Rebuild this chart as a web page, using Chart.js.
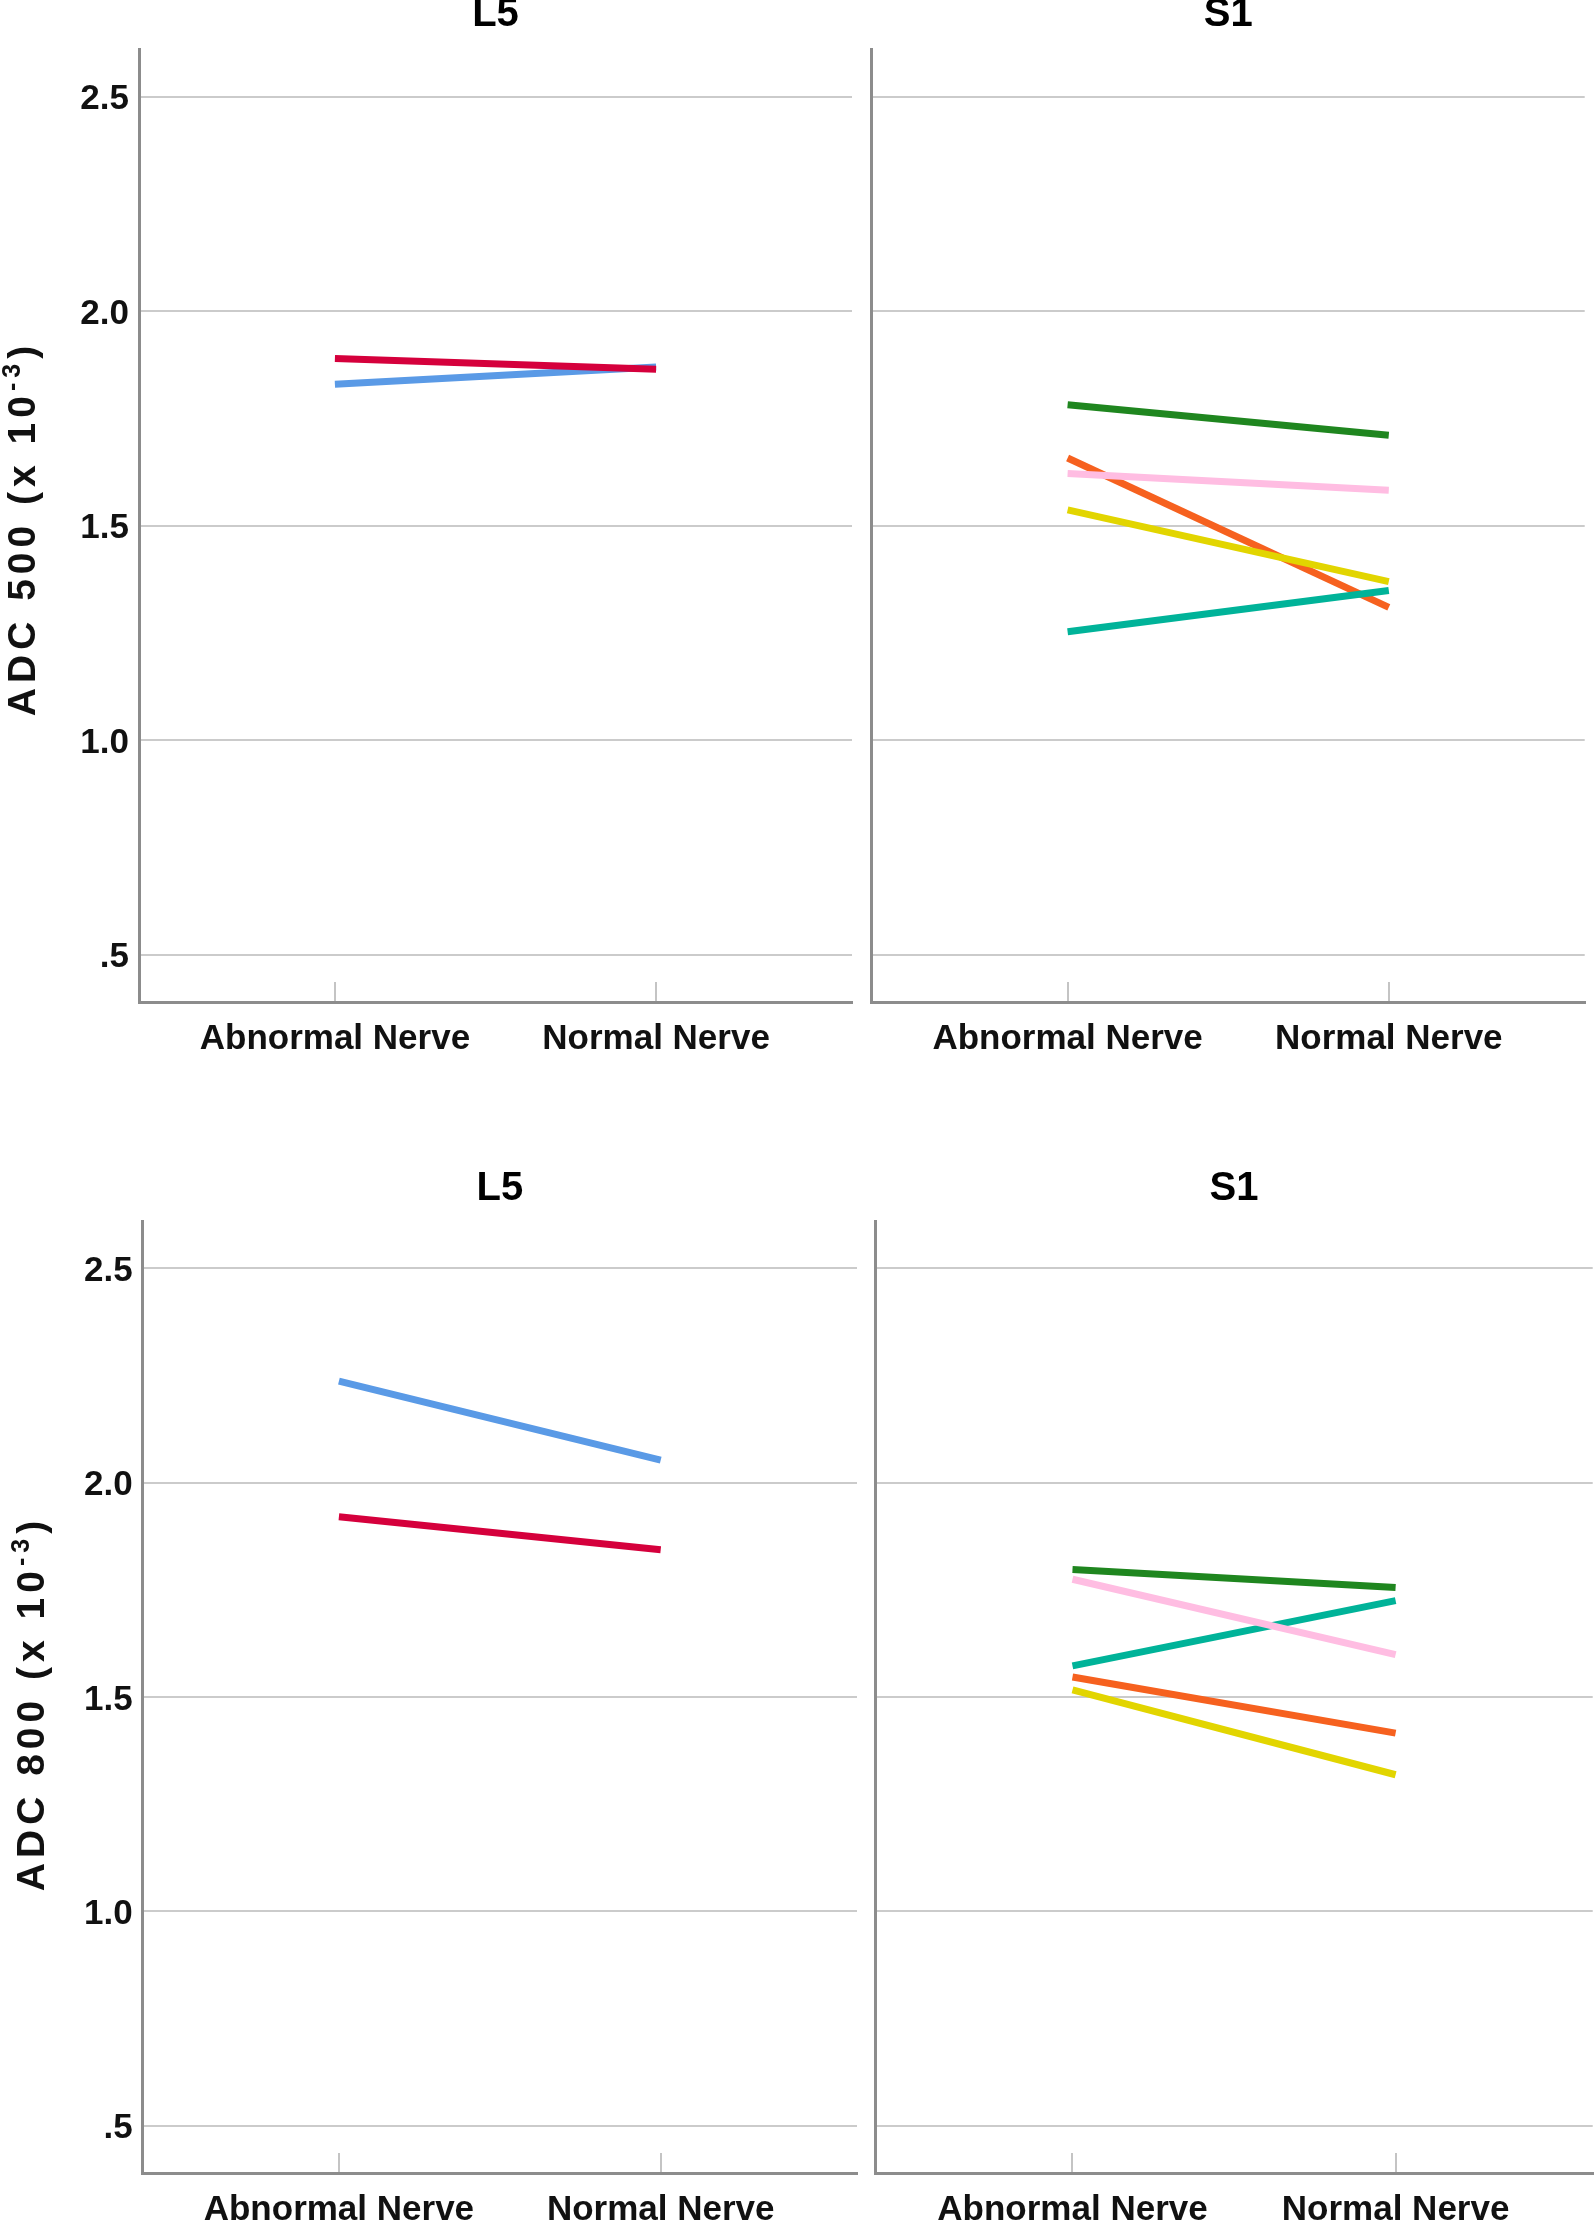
<!DOCTYPE html>
<html>
<head>
<meta charset="utf-8">
<script src="https://cdn.jsdelivr.net/npm/chart.js@4.4.0/dist/chart.umd.min.js"></script>
<style>
body { margin: 0; background: #fff; width: 1594px; height: 2220px; position: relative; overflow: hidden; }
canvas { position: absolute; }
</style>
</head>
<body>
<canvas id="c1" width="860" height="1110" style="left:0;top:-9px"></canvas>
<canvas id="c2" width="734" height="1110" style="left:860px;top:-9px"></canvas>
<canvas id="c3" width="865" height="1055" style="left:0;top:1165px"></canvas>
<canvas id="c4" width="729" height="1055" style="left:865px;top:1165px"></canvas>
<script>
// data
const categories = ['Abnormal Nerve', 'Normal Nerve'];
const yTickValues = [0.5, 1.0, 1.5, 2.0, 2.5];
const yTickLabels = ['.5', '1.0', '1.5', '2.0', '2.5'];

// ADC 500
const l5Adc500Red = [1.89, 1.865];
const l5Adc500Blue = [1.83, 1.87];
const s1Adc500Green = [1.782, 1.711];
const s1Adc500Pink = [1.622, 1.583];
const s1Adc500Orange = [1.658, 1.310];
const s1Adc500Yellow = [1.537, 1.370];
const s1Adc500Teal = [1.253, 1.349];

// ADC 800
const l5Adc800Blue = [2.237, 2.053];
const l5Adc800Red = [1.921, 1.844];
const s1Adc800Green = [1.798, 1.756];
const s1Adc800Pink = [1.775, 1.599];
const s1Adc800Teal = [1.573, 1.725];
const s1Adc800Orange = [1.547, 1.416];
const s1Adc800Yellow = [1.517, 1.319];

const col = {
  red: '#d5003c', blue: '#5a9ae6', green: '#1f861f', pink: '#ffbde2',
  orange: '#f6611f', yellow: '#e2d500', teal: '#00b399'
};
const FONT = '"Liberation Sans", Arial, sans-serif';

function drawSpaced(ctx, parts, spacing) {
  let total = -spacing;
  parts.forEach(p => {
    ctx.font = 'bold ' + p.size + 'px ' + FONT;
    for (const ch of p.t) total += ctx.measureText(ch).width + spacing;
  });
  let x = -total / 2;
  parts.forEach(p => {
    ctx.font = 'bold ' + p.size + 'px ' + FONT;
    for (const ch of p.t) {
      ctx.fillText(ch, x, 14 - p.rise);
      x += ctx.measureText(ch).width + spacing;
    }
  });
}

const yTitlePlugin = {
  id: 'ytitle',
  afterDraw(chart, args, opts) {
    if (!opts.text) return;
    const ctx = chart.ctx;
    ctx.save();
    ctx.fillStyle = '#111';
    ctx.textBaseline = 'alphabetic';
    ctx.translate(opts.x, opts.y);
    ctx.rotate(-Math.PI / 2);
    drawSpaced(ctx, [
      { t: opts.text, size: 39, rise: 0 },
      { t: '-3', size: 25, rise: 15 },
      { t: ')', size: 39, rise: 0 }
    ], 5);
    ctx.restore();
  }
};

function series(values, color) {
  return {
    data: values.map((v, i) => ({ x: i, y: v })),
    borderColor: color,
    borderWidth: 7,
    pointRadius: 0,
    fill: false
  };
}

function makeChart(id, title, datasets, o) {
  new Chart(document.getElementById(id), {
    type: 'line',
    data: { datasets: datasets },
    plugins: [yTitlePlugin],
    options: {
      responsive: false,
      animation: false,
      events: [],
      layout: { padding: { left: 0, right: o.padRight, top: 0, bottom: 0 } },
      plugins: {
        legend: { display: false },
        tooltip: { enabled: false },
        title: {
          display: true, text: title, fullSize: false, color: '#000',
          font: { size: 40, weight: 'bold', family: FONT },
          padding: { top: 0, bottom: o.titleGap }
        },
        ytitle: { text: o.yTitle, x: o.yTitleX, y: o.yTitleY }
      },
      scales: {
        x: {
          type: 'linear', min: -0.61, max: 1.61,
          afterBuildTicks: s => { s.ticks = [0, 1].map(v => ({ value: v })); },
          afterFit: s => { s.height = o.xHeight; },
          ticks: {
            callback: v => categories[v],
            color: '#111', maxRotation: 0, autoSkip: false, padding: 36,
            font: { size: 35, weight: 'bold', family: FONT }
          },
          grid: { drawOnChartArea: false, drawTicks: true, tickLength: -20, color: '#c4c4c4', lineWidth: 2 },
          border: { color: '#8c8c8c', width: 3 }
        },
        y: {
          min: 0.39, max: 2.61,
          afterBuildTicks: s => { s.ticks = yTickValues.map(v => ({ value: v })); },
          afterFit: s => { s.width = o.yWidth; },
          ticks: {
            display: o.showY,
            callback: (v, i) => yTickLabels[i],
            color: '#111', padding: 10, labelOffset: 3,
            font: { size: 35, weight: 'bold', family: FONT }
          },
          grid: { color: '#cbcbcb', lineWidth: 2, drawTicks: false },
          border: { color: '#8c8c8c', width: 3 }
        }
      }
    }
  });
}

makeChart('c1', 'L5', [series(l5Adc500Red, col.red), series(l5Adc500Blue, col.blue)],
  { yWidth: 139, padRight: 8, titleGap: 10.6, xHeight: 99, showY: true, yTitle: 'ADC 500 (x 10', yTitleX: 21, yTitleY: 540 });

makeChart('c2', 'S1', [
  series(s1Adc500Teal, col.teal), series(s1Adc500Yellow, col.yellow),
  series(s1Adc500Pink, col.pink), series(s1Adc500Green, col.green),
  series(s1Adc500Orange, col.orange)
], { yWidth: 11.7, padRight: 9.3, titleGap: 10.6, xHeight: 99, showY: false });

makeChart('c3', 'L5', [series(l5Adc800Blue, col.blue), series(l5Adc800Red, col.red)],
  { yWidth: 142.6, padRight: 8, titleGap: 8.3, xHeight: 47, showY: true, yTitle: 'ADC 800 (x 10', yTitleX: 30, yTitleY: 541 });

makeChart('c4', 'S1', [
  series(s1Adc800Green, col.green), series(s1Adc800Pink, col.pink),
  series(s1Adc800Teal, col.teal), series(s1Adc800Orange, col.orange),
  series(s1Adc800Yellow, col.yellow)
], { yWidth: 10.4, padRight: 1.3, titleGap: 8.3, xHeight: 47, showY: false });
</script>
</body>
</html>
